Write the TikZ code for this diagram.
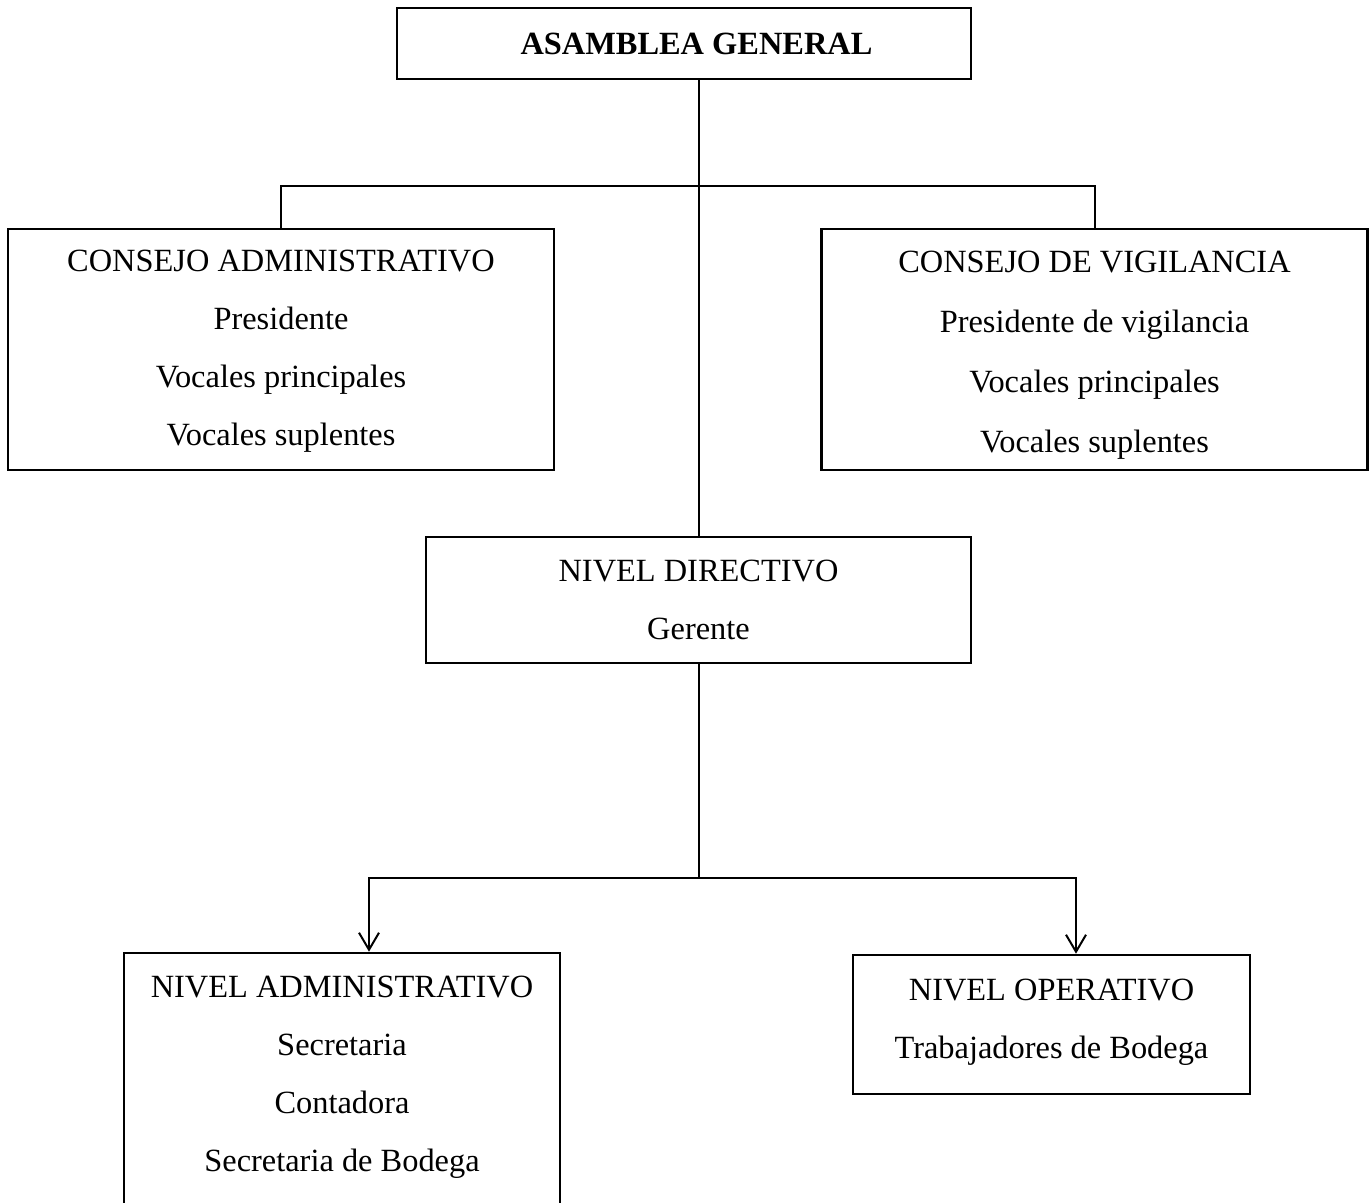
\documentclass[tikz,border=0pt]{standalone}
\usepackage{fontspec}
\setmainfont{Liberation Serif}
\usetikzlibrary{arrows.meta}
\begin{document}
\begin{tikzpicture}[x=0.5pt,y=-0.5pt,
  box/.style={draw,line width=1.3pt,align=center,inner sep=0pt,
    font=\fontsize{16.2}{29}\selectfont},
  conn/.style={line width=1pt},
  arr/.style={conn,-{Straight Barb[length=8.5pt,width=10pt,line width=1pt]}}]
\useasboundingbox (0,0) rectangle (1370,1203);
\clip (0,0) rectangle (1370,1203);
\node[box,minimum width=287pt,minimum height=35.5pt,font=\fontsize{16.2}{29}\selectfont\bfseries] (ag) at (684,43.5) {\hspace*{12.5pt}ASAMBLEA GENERAL};
\node[box,minimum width=273pt,minimum height=120.5pt] (ca) at (281,349.5)
  {\rule{0pt}{12.8pt}CONSEJO ADMINISTRATIVO\\Presidente\\Vocales principales\\Vocales suplentes};
\node[box,minimum width=273pt,minimum height=120.5pt,font=\fontsize{16.2}{30}\selectfont] (cv) at (1094.5,349.5)
  {\rule{0pt}{16pt}CONSEJO DE VIGILANCIA\\Presidente de vigilancia\\Vocales principales\\Vocales suplentes};
\node[box,minimum width=272.5pt,minimum height=63pt] (nd) at (698.5,600)
  {NIVEL DIRECTIVO\\Gerente};
\node[box,minimum width=198.5pt,minimum height=69.5pt] (no) at (1051.5,1024.5)
  {NIVEL OPERATIVO\\Trabajadores de Bodega\\[-23pt]\mbox{}};
\node[box,minimum width=218pt,minimum height=150pt] (na) at (342,1103)
  {NIVEL ADMINISTRATIVO\\Secretaria\\Contadora\\Secretaria de Bodega\\\mbox{}};
\coordinate (j1) at (698.5,186);
\coordinate (j2) at (698.5,878);
\draw[conn] (ag.south -| nd.north) -- (nd.north);
\draw[conn] (ca.north) |- (j1) -| (cv.north);
\draw[conn] (nd.south) -- (j2);
\draw[arr] (j2) -| ([xshift=13.5pt]na.north);
\draw[arr] (j2) -| ([xshift=12.25pt]no.north);
\end{tikzpicture}
\end{document}
